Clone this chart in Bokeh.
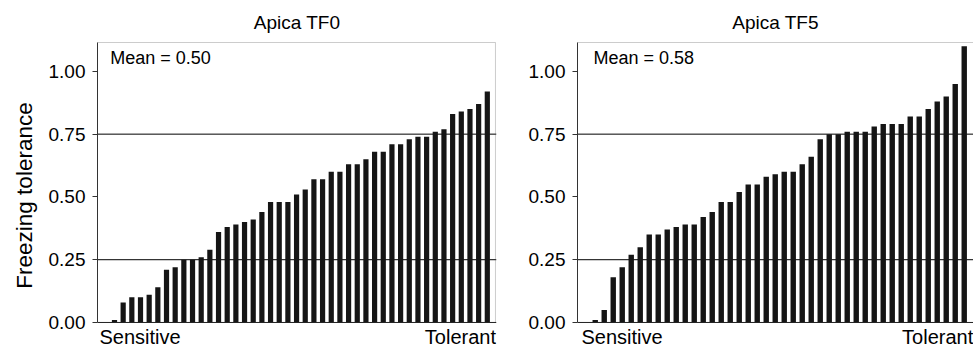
from bokeh.plotting import figure
from bokeh.models import (Range1d, FixedTicker, NumeralTickFormatter, Span, Label,
                          Title, BoxAnnotation)
from bokeh.layouts import row
from bokeh.embed import file_html
from bokeh.resources import INLINE

# ---- data ----
tf0_values = [0.01, 0.08, 0.10, 0.10, 0.11, 0.14, 0.21, 0.22, 0.25, 0.25, 0.26, 0.29,
              0.36, 0.38, 0.39, 0.40, 0.41, 0.44, 0.48, 0.48, 0.48, 0.51, 0.53, 0.57,
              0.57, 0.60, 0.60, 0.63, 0.63, 0.65, 0.68, 0.68, 0.71, 0.71, 0.73, 0.74,
              0.74, 0.76, 0.77, 0.83, 0.84, 0.85, 0.87, 0.92]
tf5_values = [0.01, 0.05, 0.18, 0.22, 0.27, 0.30, 0.35, 0.35, 0.37, 0.38, 0.39, 0.39,
              0.42, 0.44, 0.48, 0.48, 0.52, 0.55, 0.55, 0.58, 0.59, 0.60, 0.60, 0.63,
              0.66, 0.73, 0.75, 0.75, 0.76, 0.76, 0.76, 0.78, 0.79, 0.79, 0.79, 0.82,
              0.82, 0.85, 0.88, 0.90, 0.95, 1.10]
panel_titles = ["Apica TF0", "Apica TF5"]
mean_texts = ["Mean = 0.50", "Mean = 0.58"]
y_ticks = [0.0, 0.25, 0.50, 0.75, 1.00]
ref_lines = [0.25, 0.75]
end_labels = ["Sensitive", "Tolerant"]
y_label = "Freezing tolerance"

FONT = "Liberation Sans"
Y_TOP = 1.115          # top of the plotting box
Y_LOW = -0.1076        # room below the box for the end labels
Y_HIGH = 1.119


def make_panel(values, title, mean_text, x_start, x_end, box_right, frame_w,
               border_l, border_r, mean_x, sens_x, tol_x, with_label):
    p = figure(frame_width=frame_w, frame_height=308,
               min_border_left=border_l, min_border_right=border_r,
               min_border_top=41, min_border_bottom=0,
               x_range=Range1d(x_start, x_end), y_range=Range1d(Y_LOW, Y_HIGH),
               x_axis_location=None, output_backend="svg", toolbar_location=None,
               title=title)
    p.title.text_font = FONT
    p.title.text_font_size = "19px"
    p.title.text_font_style = "normal"
    p.title.text_color = "black"
    p.title.align = "center"
    p.title.standoff = 17
    p.grid.visible = False
    p.outline_line_color = None
    p.background_fill_color = "white"
    p.border_fill_color = "white"

    ay = p.yaxis[0]
    ay.bounds = (0, Y_TOP)
    ay.ticker = FixedTicker(ticks=y_ticks)
    ay.formatter = NumeralTickFormatter(format="0.00")
    ay.major_tick_out = 5
    ay.major_tick_in = 0
    ay.minor_tick_out = 0
    ay.minor_tick_in = 0
    ay.major_label_standoff = 7
    ay.major_label_text_font = FONT
    ay.major_label_text_font_size = "19px"
    ay.major_label_text_color = "black"
    ay.axis_line_color = "#333333"
    ay.major_tick_line_color = "#333333"

    for yv in ref_lines:
        p.add_layout(Span(location=yv, dimension="width", line_color="black",
                          line_width=1, level="underlay"))

    # plotting box (outline), bottom edge is the zero line
    p.add_layout(BoxAnnotation(left=x_start, right=box_right, bottom=0, top=Y_TOP,
                               fill_color=None, line_color="#555555", line_width=1,
                               level="underlay"))
    p.add_layout(Span(location=0, dimension="width", line_color="#222222", line_width=1))

    xs = list(range(1, len(values) + 1))
    p.vbar(x=xs, top=values, width=0.6, fill_color="#151515", line_color=None)

    p.add_layout(Label(x=mean_x, y=1.052, text=mean_text, text_font=FONT,
                       text_font_size="18px", text_baseline="alphabetic",
                       text_color="black"))
    p.add_layout(Label(x=sens_x, y=-0.058, text=end_labels[0], text_font=FONT,
                       text_font_size="20px", text_baseline="alphabetic",
                       text_align="left", text_color="black"))
    p.add_layout(Label(x=tol_x, y=-0.058, text=end_labels[1], text_font=FONT,
                       text_font_size="20px", text_baseline="alphabetic",
                       text_align="right", text_color="black"))
    if with_label:
        p.add_layout(Title(text=y_label, align="center", standoff=18,
                           text_font=FONT, text_font_size="22.5px",
                           text_font_style="normal", text_color="black"), "left")
    return p


left = make_panel(tf0_values, panel_titles[0], mean_texts[0], -0.96, 45.06, 44.94, 399,
                  97, 1, 0.5, -0.73, 45.0, True)
right = make_panel(tf5_values, panel_titles[1], mean_texts[1], -0.97, 43.03, 44.0, 396,
                   80, 0, 0.8, -0.53, 43.0, False)

layout = row(left, right)
open("out.html", "w").write(file_html(layout, INLINE))
